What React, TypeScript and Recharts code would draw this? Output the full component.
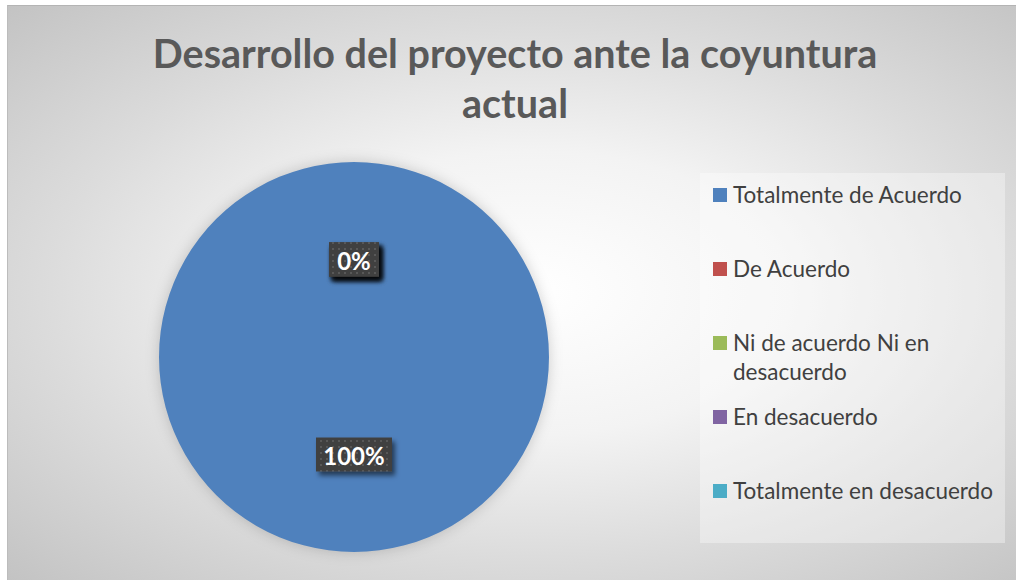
import { PieChart, Pie, Cell, Legend } from "recharts";

const categories = [
  "Totalmente de Acuerdo",
  "De Acuerdo",
  "Ni de acuerdo Ni en desacuerdo",
  "En desacuerdo",
  "Totalmente en desacuerdo",
];
const values = [100, 0, 0, 0, 0];
const colors = ["#4F81BD", "#C0504D", "#9BBB59", "#8064A2", "#4BACC6"];
const titleLines = ["Desarrollo del proyecto ante la coyuntura", "actual"];

const chartData = categories.map((name, i) => ({ name, value: values[i] }));

const RADIAN = Math.PI / 180;

const renderLabel = (props: any) => {
  const { cx, cy, midAngle, outerRadius, percent, index } = props;
  const r = outerRadius * 0.5;
  const x = cx + r * Math.cos(-midAngle * RADIAN);
  const y = cy + r * Math.sin(-midAngle * RADIAN);
  const text = `${Math.round(percent * 100)}%`;
  const w = text.length * 13 + 24;
  const h = 34;
  return (
    <g key={`lbl-${index}`}>
      <defs>
        <pattern id="lblDots" width="6" height="6" patternUnits="userSpaceOnUse">
          <rect width="6" height="6" fill="#404040" />
          <rect x="2" y="2" width="2" height="2" fill="#585858" />
        </pattern>
        <filter id="lblShadow" x="-30%" y="-30%" width="160%" height="170%">
          <feDropShadow dx="3" dy="4" stdDeviation="2.5" floodColor="#000" floodOpacity="0.55" />
        </filter>
      </defs>
      <rect
        x={x - w / 2}
        y={y - h / 2}
        width={w}
        height={h}
        fill="url(#lblDots)"
        filter="url(#lblShadow)"
      />
      <text
        x={x}
        y={y + 1}
        textAnchor="middle"
        dominantBaseline="central"
        fill="#ffffff"
        fontFamily="Lato"
        fontWeight="bold"
        fontSize={24}
      >
        {text}
      </text>
    </g>
  );
};

const LegendBox = () => (
  <div
    style={{
      width: 305,
      height: 370,
      background: "rgba(255,255,255,0.35)",
      boxSizing: "border-box",
      paddingTop: 7,
      fontFamily: "Lato",
      fontSize: 22.5,
      color: "#404040",
    }}
  >
    {categories.map((name, i) => (
      <div
        key={name}
        style={{ height: 74, display: "flex", alignItems: "flex-start", lineHeight: "29px" }}
      >
        <span
          style={{
            display: "inline-block",
            width: 14,
            height: 14,
            background: colors[i],
            marginLeft: 13,
            marginTop: 8,
            marginRight: 6,
            flex: "none",
          }}
        />
        <span style={{ width: 270 }}>{name}</span>
      </div>
    ))}
  </div>
);

export default function App() {
  return (
    <div
      style={{
        position: "absolute",
        left: 0,
        top: 0,
        width: 1016,
        height: 580,
        background: "#ffffff",
        overflow: "hidden",
      }}
    >
      <style>{`.recharts-pie-sector path { filter: drop-shadow(0 0 7px rgba(0,0,0,0.18)); }`}</style>
      <div
        style={{
          position: "absolute",
          left: 7,
          top: 5,
          width: 1009,
          height: 575,
          boxSizing: "border-box",
          borderTop: "1px solid #b4b4b4",
          borderLeft: "1px solid #bcbcbc",
          background:
            "radial-gradient(ellipse farthest-corner at 52% 50%, #ffffff 0%, #f3f3f3 35%, #dcdcdc 65%, #c3c3c3 100%)",
        }}
      />
      <div
        style={{
          position: "absolute",
          left: 0,
          top: 28,
          width: 1030,
          textAlign: "center",
          fontFamily: "Lato",
          fontWeight: "bold",
          fontSize: 39.5,
          lineHeight: "50px",
          color: "#595959",
        }}
      >
        {titleLines.map((t) => (
          <div key={t}>{t}</div>
        ))}
      </div>
      <div style={{ position: "absolute", left: 0, top: 0 }}>
        <PieChart width={1016} height={580} margin={{ top: 0, right: 0, bottom: 0, left: 0 }}>
          <Pie
            data={chartData}
            dataKey="value"
            nameKey="name"
            cx={354}
            cy={357}
            outerRadius={195}
            startAngle={90}
            endAngle={-270}
            stroke="none"
            label={renderLabel}
            labelLine={false}
            isAnimationActive={false}
          >
            {chartData.map((entry, index) => (
              <Cell key={`cell-${index}`} fill={colors[index % colors.length]} />
            ))}
          </Pie>
          <Legend
            content={() => <LegendBox />}
            wrapperStyle={{ position: "absolute", left: 700, top: 173, width: 305, height: 370 }}
          />
        </PieChart>
      </div>
    </div>
  );
}
